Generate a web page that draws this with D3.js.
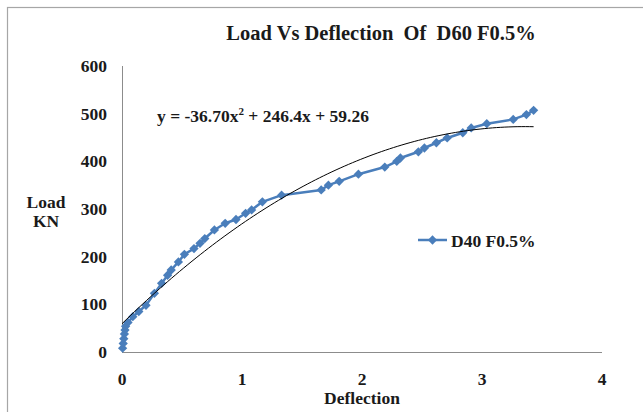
<!DOCTYPE html>
<html>
<head>
<meta charset="utf-8">
<script src="https://cdn.jsdelivr.net/npm/d3@7"></script>
<style>
  html, body { margin: 0; padding: 0; background: #fff; }
  svg text { font-family: "Liberation Serif", "Times New Roman", serif; font-weight: bold; fill: #1a1a1a; }
</style>
</head>
<body>
<svg id="chart" width="643" height="412"></svg>
<script>
// Load–deflection readings for the D40 F0.5% specimen
const deflection = [0.005, 0.01, 0.015, 0.02, 0.025, 0.03, 0.05, 0.09, 0.14, 0.2, 0.27, 0.33, 0.38, 0.41, 0.47, 0.52, 0.6, 0.65, 0.69, 0.77, 0.86, 0.95, 1.03, 1.08, 1.17, 1.33, 1.66, 1.72, 1.81, 1.97, 2.19, 2.29, 2.32, 2.47, 2.52, 2.62, 2.71, 2.84, 2.91, 3.04, 3.26, 3.37, 3.43];
const load = [8, 18, 28, 38, 46, 54, 62, 74, 85, 98, 123, 144, 161, 172, 189, 205, 217, 228, 238, 256, 270, 278, 291, 298, 315, 329, 340, 350, 358, 373, 388, 400, 407, 420, 428, 439, 449, 460, 470, 479, 488, 498, 507];

// Polynomial (order 2) trendline coefficients: y = a x^2 + b x + c
const trendCoef = [-36.70, 246.4, 59.26];

const xTicks = [0, 1, 2, 3, 4];
const yTicks = [0, 100, 200, 300, 400, 500, 600];

const seriesName = "D40 F0.5%";
const title = "Load Vs Deflection  Of  D60 F0.5%";
const blue = "#4a7ebb";

const svg = d3.select("#chart");

// Outer chart frame
svg.append("rect")
  .attr("x", 7.5).attr("y", 7.5)
  .attr("width", 700).attr("height", 500)
  .attr("fill", "none").attr("stroke", "#a6a6a6").attr("stroke-width", 1.2);

const x = d3.scaleLinear().domain([0, 4]).range([122, 602]);
const y = d3.scaleLinear().domain([0, 600]).range([352, 66]);

// Axis lines
svg.append("line").attr("x1", x(0)).attr("x2", x(4)).attr("y1", y(0) + 0.5).attr("y2", y(0) + 0.5)
  .attr("stroke", "#8c8c8c").attr("stroke-width", 1);
svg.append("line").attr("x1", x(0) + 0.5).attr("x2", x(0) + 0.5).attr("y1", y(0)).attr("y2", y(600))
  .attr("stroke", "#8c8c8c").attr("stroke-width", 1);

// Tick labels
svg.selectAll(".ytick").data(yTicks).join("text")
  .attr("class", "ytick")
  .attr("x", 107).attr("y", d => y(d) + 6)
  .attr("text-anchor", "end").attr("font-size", 17.5)
  .text(d => d);

svg.selectAll(".xtick").data(xTicks).join("text")
  .attr("class", "xtick")
  .attr("x", d => x(d)).attr("y", 385)
  .attr("text-anchor", "middle").attr("font-size", 17.5)
  .text(d => d);

// Title and axis titles
svg.append("text").attr("x", 381).attr("y", 40).attr("text-anchor", "middle")
  .attr("font-size", 20.5).style("white-space", "pre").text(title);
svg.append("text").attr("x", 46).attr("y", 208).attr("text-anchor", "middle")
  .attr("font-size", 17.5).text("Load");
svg.append("text").attr("x", 46).attr("y", 227).attr("text-anchor", "middle")
  .attr("font-size", 17.5).text("KN");
svg.append("text").attr("x", 362).attr("y", 404).attr("text-anchor", "middle")
  .attr("font-size", 17.5).text("Deflection");

// Data series
const pts = deflection.map((d, i) => [d, load[i]]);
const line = d3.line().x(d => x(d[0])).y(d => y(d[1]));
svg.append("path").datum(pts)
  .attr("d", line).attr("fill", "none")
  .attr("stroke", blue).attr("stroke-width", 2.5).attr("stroke-linejoin", "round");

const diamond = d3.symbol().type(d3.symbolDiamond2).size(55);
svg.selectAll(".pt").data(pts).join("path")
  .attr("class", "pt")
  .attr("transform", d => `translate(${x(d[0])},${y(d[1])})`)
  .attr("d", diamond).attr("fill", blue);

// Trendline over the data range
const [a, b, c] = trendCoef;
const xMax = d3.max(deflection);
const trend = d3.range(0, 101).map(i => {
  const t = xMax * i / 100;
  return [t, a * t * t + b * t + c];
});
svg.append("path").datum(trend)
  .attr("d", line).attr("fill", "none")
  .attr("stroke", "#000").attr("stroke-width", 1);

// Trendline equation
const eq = svg.append("text").attr("x", 157).attr("y", 122).attr("font-size", 17.5);
eq.append("tspan").text("y = -36.70x");
eq.append("tspan").attr("font-size", 11).attr("dy", -7).text("2");
eq.append("tspan").attr("dy", 7).text(" + 246.4x + 59.26");

// Legend
const lg = svg.append("g").attr("transform", "translate(418,240)");
lg.append("line").attr("x1", 0).attr("x2", 29).attr("stroke", blue).attr("stroke-width", 2.5);
lg.append("path").attr("transform", "translate(14.5,0)").attr("d", diamond).attr("fill", blue);
lg.append("text").attr("x", 33).attr("y", 6.5).attr("font-size", 17.5).text(seriesName);
</script>
</body>
</html>
